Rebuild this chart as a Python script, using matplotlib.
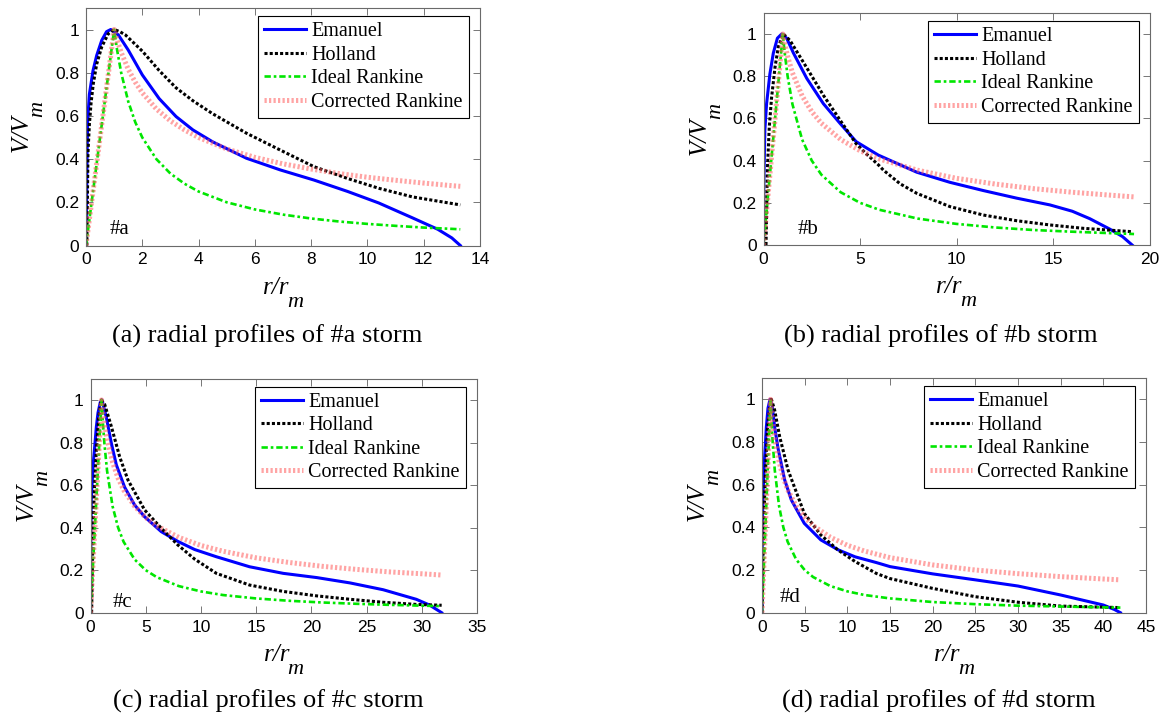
import matplotlib
matplotlib.use("Agg")
import matplotlib.pyplot as plt
from matplotlib.transforms import offset_copy

# ---- storm #a ----
a_em_r = [0, 0.02, 0.04, 0.06, 0.12, 0.25, 0.38, 0.56, 0.73, 0.88, 1.15, 1.5, 2.0, 2.6, 3.2, 3.8, 4.5,
          5.7, 6.9, 8.1, 9.3, 10.4, 11.6, 12.5, 13.0, 13.3]
a_em_v = [0, 0.2, 0.45, 0.58, 0.70, 0.81, 0.88, 0.95, 0.99, 1.0, 0.975, 0.905, 0.79, 0.68, 0.597, 0.535, 0.48,
          0.404, 0.35, 0.303, 0.25, 0.197, 0.128, 0.075, 0.035, 0]
a_ho_r = [0.03, 0.07, 0.12, 0.18, 0.26, 0.38, 0.56, 0.79, 1.0, 1.2, 1.4, 2.0, 2.6, 3.2, 3.8, 4.5, 5.7, 6.9,
          8.1, 9.3, 10.4, 11.6, 13.3]
a_ho_v = [0, 0.43, 0.56, 0.66, 0.75, 0.84, 0.92, 0.98, 1.0, 0.99, 0.975, 0.9, 0.81, 0.73, 0.67, 0.61, 0.52,
          0.442, 0.365, 0.31, 0.265, 0.225, 0.188]
a_rk_r = [0, 0.5, 1, 1.1, 1.25, 1.5, 1.75, 2, 2.5, 3, 3.5, 4, 5, 6, 7, 8, 9, 10, 11, 12, 13, 13.3]
a_ideal = [0, 0.5, 1, 0.909, 0.8, 0.667, 0.571, 0.5, 0.4, 0.333, 0.286, 0.25, 0.2, 0.167, 0.143, 0.125, 0.111,
           0.1, 0.091, 0.083, 0.077, 0.075]
a_corr = [0, 0.5, 1, 0.953, 0.894, 0.816, 0.756, 0.707, 0.632, 0.577, 0.535, 0.5, 0.447, 0.408, 0.378, 0.354,
          0.333, 0.316, 0.302, 0.289, 0.277, 0.274]

# ---- storm #b ----
b_em_r = [0, 0.02, 0.07, 0.16, 0.33, 0.51, 0.72, 0.94, 1.2, 1.55, 2.24, 3.1, 3.96, 4.8, 5.95, 7.94, 9.66,
          11.39, 13.12, 14.84, 16.0, 16.9, 17.95, 18.6, 19.1]
b_em_v = [0, 0.3, 0.545, 0.67, 0.81, 0.91, 0.98, 1.0, 0.98, 0.91, 0.79, 0.67, 0.577, 0.49, 0.426, 0.345, 0.297,
          0.258, 0.222, 0.19, 0.16, 0.125, 0.075, 0.04, 0]
b_ho_r = [0.13, 0.2, 0.3, 0.42, 0.6, 0.77, 1.03, 1.37, 2.24, 3.1, 3.96, 4.8, 5.35, 5.95, 6.21, 7.08, 7.94,
          9.66, 11.39, 13.12, 14.84, 16.57, 19.1]
b_ho_v = [0, 0.355, 0.56, 0.7, 0.845, 0.94, 1.0, 0.97, 0.84, 0.71, 0.593, 0.48, 0.43, 0.38, 0.355, 0.29, 0.245,
          0.182, 0.142, 0.115, 0.095, 0.079, 0.063]
b_rk_r = [0, 0.5, 1, 1.1, 1.25, 1.5, 2, 2.5, 3, 4, 5, 6, 8, 10, 12, 14, 16, 18, 19.2]
b_ideal = [0, 0.5, 1, 0.909, 0.8, 0.667, 0.5, 0.4, 0.333, 0.25, 0.2, 0.167, 0.125, 0.1, 0.083, 0.071, 0.063,
           0.056, 0.052]
b_corr = [0, 0.5, 1, 0.953, 0.894, 0.816, 0.707, 0.632, 0.577, 0.5, 0.447, 0.408, 0.354, 0.316, 0.289, 0.267,
          0.25, 0.236, 0.228]

# ---- storm #c ----
c_em_r = [0, 0.03, 0.07, 0.23, 0.38, 0.53, 0.68, 0.89, 1.04, 1.43, 1.89, 2.34, 3.09, 4.0, 4.9, 6.41, 7.92,
          9.43, 11.4, 14.4, 17.45, 20.5, 23.5, 26.5, 29.5, 30.7, 31.8]
c_em_v = [0, 0.3, 0.53, 0.69, 0.78, 0.874, 0.94, 0.99, 1.0, 0.92, 0.796, 0.695, 0.59, 0.506, 0.451, 0.381, 0.335,
          0.297, 0.263, 0.216, 0.185, 0.165, 0.14, 0.108, 0.063, 0.036, 0]
c_ho_r = [0.1, 0.2, 0.32, 0.53, 0.74, 0.98, 1.28, 1.89, 2.64, 3.39, 4.9, 6.41, 7.92, 9.43, 11.4, 14.4, 17.45,
          20.5, 23.5, 26.5, 29.5, 31.8]
c_ho_v = [0, 0.3, 0.545, 0.765, 0.92, 1.0, 0.98, 0.875, 0.733, 0.624, 0.483, 0.397, 0.318, 0.252, 0.185, 0.13,
          0.1, 0.079, 0.063, 0.049, 0.039, 0.035]
c_rk_r = [0, 0.5, 1, 1.1, 1.25, 1.5, 2, 2.5, 3, 4, 5, 6, 8, 10, 12, 15, 18, 21, 24, 27, 30, 31.8]
c_ideal = [0, 0.5, 1, 0.909, 0.8, 0.667, 0.5, 0.4, 0.333, 0.25, 0.2, 0.167, 0.125, 0.1, 0.083, 0.067, 0.056,
           0.048, 0.042, 0.037, 0.033, 0.031]
c_corr = [0, 0.5, 1, 0.953, 0.894, 0.816, 0.707, 0.632, 0.577, 0.5, 0.447, 0.408, 0.354, 0.316, 0.289, 0.258,
          0.236, 0.218, 0.204, 0.192, 0.183, 0.177]

# ---- storm #d ----
d_em_r = [0, 0.02, 0.04, 0.16, 0.31, 0.51, 0.7, 0.94, 1.2, 1.48, 1.88, 2.66, 3.44, 4.95, 6.9, 8.9, 10.9, 13.4,
          15, 20, 25, 30, 35, 40, 41.3, 42]
d_em_v = [0, 0.25, 0.42, 0.59, 0.73, 0.87, 0.958, 1.0, 0.97, 0.87, 0.77, 0.622, 0.528, 0.419, 0.341, 0.295,
          0.262, 0.235, 0.216, 0.182, 0.154, 0.125, 0.083, 0.036, 0.015, 0]
d_ho_r = [0, 0.2, 0.4, 0.63, 0.9, 1.1, 1.48, 2.07, 3.05, 4.95, 6.9, 8.9, 10.9, 13.4, 15, 20, 25, 30, 35, 42]
d_ho_v = [0, 0.42, 0.65, 0.856, 0.965, 1.0, 0.95, 0.825, 0.669, 0.466, 0.364, 0.294, 0.24, 0.184, 0.16, 0.114,
          0.075, 0.049, 0.031, 0.024]
d_rk_r = [0, 0.5, 1, 1.1, 1.25, 1.5, 2, 2.5, 3, 4, 5, 6, 8, 10, 12, 15, 20, 25, 30, 35, 40, 42]
d_ideal = [0, 0.5, 1, 0.909, 0.8, 0.667, 0.5, 0.4, 0.333, 0.25, 0.2, 0.167, 0.125, 0.1, 0.083, 0.067, 0.05,
           0.04, 0.033, 0.029, 0.025, 0.024]
d_corr = [0, 0.5, 1, 0.953, 0.894, 0.816, 0.707, 0.632, 0.577, 0.5, 0.447, 0.408, 0.354, 0.316, 0.289, 0.258,
          0.224, 0.2, 0.183, 0.169, 0.158, 0.154]

labels = ['Emanuel', 'Holland', 'Ideal Rankine', 'Corrected Rankine']
captions = ['(a) radial profiles of #a storm', '(b) radial profiles of #b storm',
            '(c) radial profiles of #c storm', '(d) radial profiles of #d storm']
storm_tags = ['#a', '#b', '#c', '#d']
x_max = [14, 20, 35, 45]
x_step = [2, 5, 5, 5]
y_ticks = [0, 0.2, 0.4, 0.6, 0.8, 1]
y_ticklabels = ['0', '0.2', '0.4', '0.6', '0.8', '1']

series = [
    (a_em_r, a_em_v, a_ho_r, a_ho_v, a_rk_r, a_ideal, a_corr),
    (b_em_r, b_em_v, b_ho_r, b_ho_v, b_rk_r, b_ideal, b_corr),
    (c_em_r, c_em_v, c_ho_r, c_ho_v, c_rk_r, c_ideal, c_corr),
    (d_em_r, d_em_v, d_ho_r, d_ho_v, d_rk_r, d_ideal, d_corr),
]

# layout in pixels: left, bottom(from top), width, height
W, H = 1165, 718
boxes = [(86, 245.5, 394, 237.6), (763.5, 245, 386, 232.1),
         (90.5, 612.7, 386.5, 234), (762, 612.7, 384, 234.7)]
cap_pos = [(267, 343), (941, 343), (268, 708), (939, 708)]
tag_pos = [(0.85, 0.072), (1.75, 0.072), (2.04, 0.05), (2.07, 0.071)]

SERIF = 'Liberation Serif'
SANS = 'Liberation Sans'

fig = plt.figure(figsize=(W / 100, H / 100), dpi=100)

for i in range(4):
    l, b, w, h = boxes[i]
    ax = fig.add_axes([l / W, (H - b) / H, w / W, h / H])
    em_r, em_v, ho_r, ho_v, rk_r, ideal, corr = series[i]

    ax.plot(em_r, em_v, color='#0000ff', lw=2.2, label=labels[0])
    ax.plot(ho_r, ho_v, color='black', lw=2.2, dashes=(1, 0.7), label=labels[1])
    ax.plot(rk_r, ideal, color='#00e600', lw=1.9, dashes=(2.4, 1.1, 1, 1.1), label=labels[2])
    ax.plot(rk_r, corr, color='#ff5a5a', alpha=0.55, lw=3.6, dashes=(0.45, 0.45), label=labels[3])

    ax.set_xlim(0, x_max[i])
    ax.set_ylim(0, 1.1)
    ax.set_xticks(range(0, x_max[i] + 1, x_step[i]))
    ax.set_yticks(y_ticks)
    ax.set_yticklabels(y_ticklabels)
    ax.tick_params(direction='in', length=5, width=0.6, color='#606060', top=True, right=True,
                   labelsize=12.5, pad=5)
    for lab in ax.get_xticklabels() + ax.get_yticklabels():
        lab.set_family(SANS)
    for sp in ax.spines.values():
        sp.set_color('#6a6a6a')
        sp.set_linewidth(0.8)

    leg = ax.legend(loc='upper right', bbox_to_anchor=(1 - 11 / w, 1 - 8 / h), borderaxespad=0,
                    fancybox=False, framealpha=1, edgecolor='black', borderpad=0.3,
                    labelspacing=0.22, handlelength=2.1, handletextpad=0.25,
                    prop={'family': SERIF, 'size': 14.5})
    leg.get_frame().set_linewidth(0.8)

    ax.text(tag_pos[i][0], tag_pos[i][1], storm_tags[i], family=SERIF, fontsize=15,
            ha='left', va='center')

    # axis labels with MATLAB-like low subscripts
    t = offset_copy(ax.transAxes, fig=fig, x=-7, y=-42, units='dots')
    ax.text(0.5, 0, 'r/r', transform=t, family=SERIF, style='italic', fontsize=18,
            ha='center', va='center')
    t = offset_copy(ax.transAxes, fig=fig, x=12, y=-57, units='dots')
    ax.text(0.5, 0, 'm', transform=t, family=SERIF, style='italic', fontsize=16,
            ha='center', va='center')
    t = offset_copy(ax.transAxes, fig=fig, x=-64, y=-7, units='dots')
    ax.text(0, 0.5, 'V/V', transform=t, family=SERIF, style='italic', fontsize=18,
            ha='center', va='center', rotation=90)
    t = offset_copy(ax.transAxes, fig=fig, x=-48, y=18, units='dots')
    ax.text(0, 0.5, 'm', transform=t, family=SERIF, style='italic', fontsize=16,
            ha='center', va='center', rotation=90)

    fig.text(cap_pos[i][0] / W, 1 - cap_pos[i][1] / H, captions[i], family=SERIF, fontsize=19,
             ha='center', va='baseline')

fig.savefig('out.png', dpi=100)
